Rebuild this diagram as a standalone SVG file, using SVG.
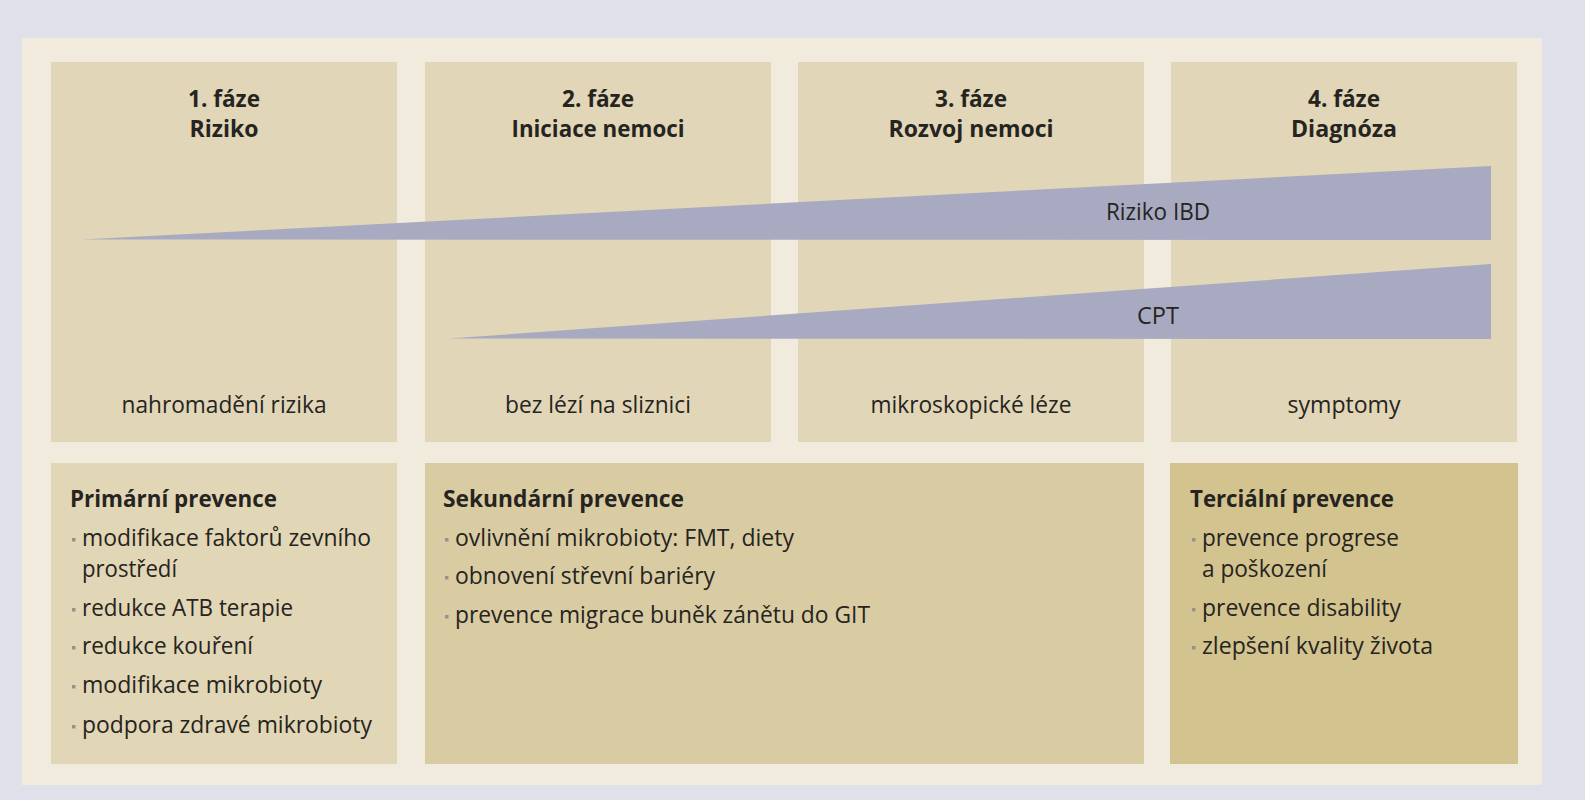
<svg xmlns="http://www.w3.org/2000/svg" width="1585" height="800" viewBox="0 0 1585 800">
<style>
text{font-family:"Open Sans","Noto Sans","Liberation Sans",sans-serif;fill:#262420;font-size:23px}
.h{font-weight:bold;text-anchor:middle}
.c{text-anchor:middle}
.t{font-weight:bold}
.b{fill:#96938a}
.top{fill:#e1d6b7}
.wedge{fill:#a8aac1}
</style>
<rect x="0" y="0" width="1585" height="800" fill="#dfe0e9"/>
<rect x="22" y="38" width="1520" height="747" fill="#f1ebdd"/>

<g id="phase1">
<rect class="top" x="51" y="62" width="346" height="380"/>
<text class="h" x="224" y="107" textLength="72" lengthAdjust="spacingAndGlyphs">1. fáze</text>
<text class="h" x="224" y="137" textLength="69" lengthAdjust="spacingAndGlyphs">Riziko</text>
<text class="c" x="224" y="413" textLength="205" lengthAdjust="spacingAndGlyphs">nahromadění rizika</text>
</g>
<g id="phase2">
<rect class="top" x="425" y="62" width="346" height="380"/>
<text class="h" x="598" y="107" textLength="72" lengthAdjust="spacingAndGlyphs">2. fáze</text>
<text class="h" x="598" y="137" textLength="173" lengthAdjust="spacingAndGlyphs">Iniciace nemoci</text>
<text class="c" x="598" y="413" textLength="186" lengthAdjust="spacingAndGlyphs">bez lézí na sliznici</text>
</g>
<g id="phase3">
<rect class="top" x="798" y="62" width="346" height="380"/>
<text class="h" x="971" y="107" textLength="72" lengthAdjust="spacingAndGlyphs">3. fáze</text>
<text class="h" x="971" y="137" textLength="165" lengthAdjust="spacingAndGlyphs">Rozvoj nemoci</text>
<text class="c" x="971" y="413" textLength="201" lengthAdjust="spacingAndGlyphs">mikroskopické léze</text>
</g>
<g id="phase4">
<rect class="top" x="1171" y="62" width="346" height="380"/>
<text class="h" x="1344" y="107" textLength="72" lengthAdjust="spacingAndGlyphs">4. fáze</text>
<text class="h" x="1344" y="137" textLength="106" lengthAdjust="spacingAndGlyphs">Diagnóza</text>
<text class="c" x="1344" y="413" textLength="113" lengthAdjust="spacingAndGlyphs">symptomy</text>
</g>

<g id="bars">
<g id="riziko-ibd">
<polygon class="wedge" points="82,239.5 1491,166 1491,240"/>
<text class="c" x="1158" y="220" textLength="104" lengthAdjust="spacingAndGlyphs">Riziko IBD</text>
</g>
<g id="cpt">
<polygon class="wedge" points="449,338.5 1491,264 1491,339"/>
<text class="c" x="1158" y="324" textLength="42" lengthAdjust="spacingAndGlyphs">CPT</text>
</g>
</g>

<g id="primary">
<rect x="51" y="463" width="346" height="301" fill="#e1d6b6"/>
<text class="t" x="70" y="507" textLength="207" lengthAdjust="spacingAndGlyphs">Primární prevence</text>
<rect class="b" x="72" y="538" width="3.5" height="3.5"/>
<text x="82" y="546" textLength="289" lengthAdjust="spacingAndGlyphs">modifikace faktorů zevního</text>
<text x="82" y="577" textLength="95" lengthAdjust="spacingAndGlyphs">prostředí</text>
<rect class="b" x="72" y="608" width="3.5" height="3.5"/>
<text x="82" y="616" textLength="211" lengthAdjust="spacingAndGlyphs">redukce ATB terapie</text>
<rect class="b" x="72" y="646" width="3.5" height="3.5"/>
<text x="82" y="654" textLength="171" lengthAdjust="spacingAndGlyphs">redukce kouření</text>
<rect class="b" x="72" y="685" width="3.5" height="3.5"/>
<text x="82" y="693" textLength="240" lengthAdjust="spacingAndGlyphs">modifikace mikrobioty</text>
<rect class="b" x="72" y="725" width="3.5" height="3.5"/>
<text x="82" y="733" textLength="290" lengthAdjust="spacingAndGlyphs">podpora zdravé mikrobioty</text>
</g>

<g id="secondary">
<rect x="425" y="463" width="719" height="301" fill="#d9cca3"/>
<text class="t" x="443" y="507" textLength="241" lengthAdjust="spacingAndGlyphs">Sekundární prevence</text>
<rect class="b" x="445" y="538" width="3.5" height="3.5"/>
<text x="455" y="546" textLength="339" lengthAdjust="spacingAndGlyphs">ovlivnění mikrobioty: FMT, diety</text>
<rect class="b" x="445" y="576" width="3.5" height="3.5"/>
<text x="455" y="584" textLength="260" lengthAdjust="spacingAndGlyphs">obnovení střevní bariéry</text>
<rect class="b" x="445" y="615" width="3.5" height="3.5"/>
<text x="455" y="623" textLength="415" lengthAdjust="spacingAndGlyphs">prevence migrace buněk zánětu do GIT</text>
</g>

<g id="tertiary">
<rect x="1170" y="463" width="348" height="301" fill="#d3c38f"/>
<text class="t" x="1190" y="507" textLength="204" lengthAdjust="spacingAndGlyphs">Terciální prevence</text>
<rect class="b" x="1192" y="538" width="3.5" height="3.5"/>
<text x="1202" y="546" textLength="197" lengthAdjust="spacingAndGlyphs">prevence progrese</text>
<text x="1202" y="577" textLength="125" lengthAdjust="spacingAndGlyphs">a poškození</text>
<rect class="b" x="1192" y="608" width="3.5" height="3.5"/>
<text x="1202" y="616" textLength="199" lengthAdjust="spacingAndGlyphs">prevence disability</text>
<rect class="b" x="1192" y="646" width="3.5" height="3.5"/>
<text x="1202" y="654" textLength="231" lengthAdjust="spacingAndGlyphs">zlepšení kvality života</text>
</g>
</svg>
